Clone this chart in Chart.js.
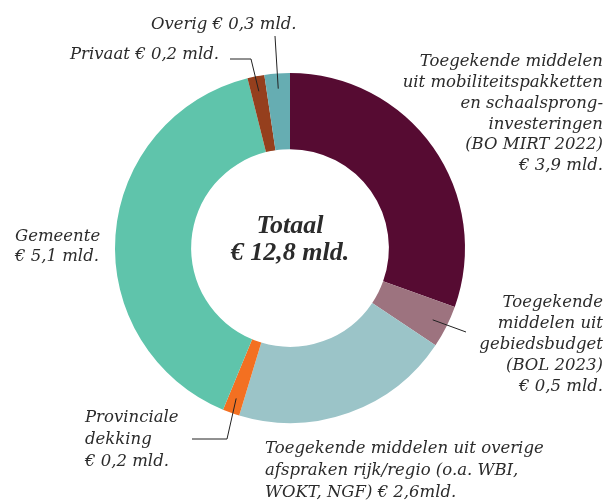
<!DOCTYPE html>
<html>
<head>
<meta charset="utf-8">
<script src="https://cdn.jsdelivr.net/npm/chart.js@4.4.1/dist/chart.umd.min.js"></script>
<style>
  html, body { margin: 0; padding: 0; background: #ffffff; }
  #wrap { width: 605px; height: 500px; }
</style>
</head>
<body>
<div id="wrap"><canvas id="c" width="605" height="500"></canvas></div>
<script>
// ---- data ----
const categories = [
  "Toegekende middelen uit mobiliteitspakketten en schaalsprong-investeringen (BO MIRT 2022)",
  "Toegekende middelen uit gebiedsbudget (BOL 2023)",
  "Toegekende middelen uit overige afspraken rijk/regio (o.a. WBI, WOKT, NGF)",
  "Provinciale dekking",
  "Gemeente",
  "Privaat",
  "Overig"
];
const values = [3.9, 0.5, 2.6, 0.2, 5.1, 0.2, 0.3];
const colors = ["#560b32", "#9d737f", "#9bc4c8", "#f37021", "#5fc4ab", "#953f1d", "#66adb2"];
const labelLines = [
  ["Toegekende middelen", "uit mobiliteitspakketten", "en schaalsprong-", "investeringen", "(BO MIRT 2022)", "€ 3,9 mld."],
  ["Toegekende", "middelen uit", "gebiedsbudget", "(BOL 2023)", "€ 0,5 mld."],
  ["Toegekende middelen uit overige", "afspraken rijk/regio (o.a. WBI,", "WOKT, NGF) € 2,6mld."],
  ["Provinciale", "dekking", "€ 0,2 mld."],
  ["Gemeente", "€ 5,1 mld."],
  ["Privaat € 0,2 mld."],
  ["Overig € 0,3 mld."]
];
const centerLines = ["Totaal", "€ 12,8 mld."];

// ---- label layout (text anchors and leader elbows) ----
const labelLayout = [
  { x: 603, y: 62, align: "right", lh: 20.8 },
  { x: 603, y: 303, align: "right", lh: 21, leader: [[466, 332]] },
  { x: 265, y: 449, align: "left", lh: 22 },
  { x: 85, y: 418, align: "left", lh: 22, leader: [[227, 439], [192, 439]] },
  { x: 15, y: 237, align: "left", lh: 20 },
  { x: 70, y: 55, align: "left", lh: 20, leader: [[251, 59], [230, 59]] },
  { x: 151, y: 25, align: "left", lh: 20, leader: [[275, 36]] }
];

const FONT = "DejaVu Serif, Liberation Serif, serif";
const CENTER_FONT = "Liberation Serif, DejaVu Serif, serif";
const TEXT = "#2b2b2b";

const labelPlugin = {
  id: "labelPlugin",
  afterDraw(chart) {
    const ctx = chart.ctx;
    const meta = chart.getDatasetMeta(0);
    ctx.save();
    // leader lines
    ctx.strokeStyle = "#222";
    ctx.lineWidth = 1;
    labelLayout.forEach((L, i) => {
      if (!L.leader) return;
      const arc = meta.data[i];
      const p = arc.getProps(["x", "y", "startAngle", "endAngle", "innerRadius", "outerRadius"], true);
      const mid = (p.startAngle + p.endAngle) / 2;
      const r = p.innerRadius + 0.8 * (p.outerRadius - p.innerRadius);
      ctx.beginPath();
      ctx.moveTo(p.x + Math.cos(mid) * r, p.y + Math.sin(mid) * r);
      L.leader.forEach(pt => ctx.lineTo(pt[0], pt[1]));
      ctx.stroke();
    });
    // labels
    ctx.fillStyle = TEXT;
    ctx.textBaseline = "middle";
    ctx.font = "italic 16.5px " + FONT;
    labelLayout.forEach((L, i) => {
      ctx.textAlign = L.align;
      labelLines[i].forEach((t, k) => ctx.fillText(t, L.x, L.y + k * L.lh));
    });
    // center
    const a = meta.data[0];
    ctx.textAlign = "center";
    ctx.font = "italic bold 26px " + CENTER_FONT;
    ctx.fillText(centerLines[0], a.x, a.y - 22);
    ctx.fillText(centerLines[1], a.x, a.y + 5);
    ctx.restore();
  }
};

new Chart(document.getElementById("c"), {
  type: "doughnut",
  data: {
    labels: categories,
    datasets: [{
      data: values,
      backgroundColor: colors,
      borderWidth: 0,
      hoverOffset: 0
    }]
  },
  options: {
    responsive: false,
    animation: false,
    cutout: "56.5%",
    layout: { padding: { left: 115, right: 140, top: 73, bottom: 77 } },
    plugins: {
      legend: { display: false },
      tooltip: { enabled: false }
    }
  },
  plugins: [labelPlugin]
});
</script>
</body>
</html>
